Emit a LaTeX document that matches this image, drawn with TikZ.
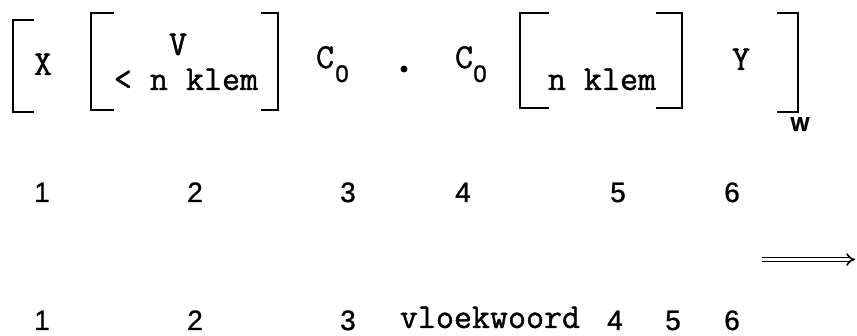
\documentclass[tikz,border=0pt]{standalone}
\usepackage{fontspec}
\usetikzlibrary{arrows.meta}
\newfontfamily\twfont[FakeBold=1.2]{Latin Modern Mono}
\newfontfamily\dgfont[FakeBold=1]{Liberation Sans}
\begin{document}
\begin{tikzpicture}[x=1pt,y=-1pt,
  tw/.style={inner sep=0pt,anchor=base,font=\twfont\fontsize{35}{40}\selectfont},
  dg/.style={inner sep=0pt,anchor=base,font=\dgfont\fontsize{28}{32}\selectfont},
  sub/.style={inner sep=0pt,anchor=base,font=\dgfont\fontsize{24}{28}\selectfont},
  wsub/.style={inner sep=0pt,anchor=base,font=\dgfont\bfseries\fontsize{20}{24}\selectfont},
  brk/.style={line width=2.8pt,line cap=rect,line join=miter}]
\useasboundingbox[fill=white] (0,0) rectangle (857,336);
% brackets
\draw[brk] (33,20) -- (13,20) -- (13,112) -- (33,112);
\draw[brk] (113,13) -- (91,13) -- (91,110) -- (113,110);
\draw[brk] (262,13) -- (278,13) -- (278,110) -- (262,110);
\draw[brk] (548,13) -- (520,13) -- (520,108) -- (548,108);
\draw[brk] (657,13) -- (682,13) -- (682,108) -- (657,108);
\draw[brk] (778,13) -- (798,13) -- (798,112) -- (778,112);
% row 1 text
\node[tw] (x) at (43,75) {X};
\node[tw] (v) at (178,55) {V};
\node[tw] (nk1) at (186,90) {< n klem};
\node[tw] (c1) at (325,68) {C};
\node[sub] (z1) at (342,82) {0};
\fill (404,69) circle (3.5pt);
\node[tw] (c2) at (464,68) {C};
\node[sub] (z2) at (480,82) {0};
\node[tw] (nk2) at (602,90) {n klem};
\node[tw] (y) at (741,70) {Y};
\node[wsub] (w) at (800,131) {W};
% row 2
\node[dg] (a1) at (42,202) {1};
\node[dg] (a2) at (195,202) {2};
\node[dg] (a3) at (348,202) {3};
\node[dg] (a4) at (463,202) {4};
\node[dg] (a5) at (618,202) {5};
\node[dg] (a6) at (732,202) {6};
% arrow
\coordinate (arrS) at (762,259.5);
\coordinate (arrE) at (855,259.5);
\draw[line width=1.6pt,double distance=2.6pt,-{Implies[length=6pt]}] (arrS) -- (arrE);
% row 3
\node[dg] (b1) at (42,330) {1};
\node[dg] (b2) at (195,330) {2};
\node[dg] (b3) at (348,330) {3};
\node[tw] (vw) at (490,328) {vloekwoord};
\node[dg] (b4) at (615,330) {4};
\node[dg] (b5) at (673,330) {5};
\node[dg] (b6) at (732,330) {6};
\end{tikzpicture}
\end{document}
